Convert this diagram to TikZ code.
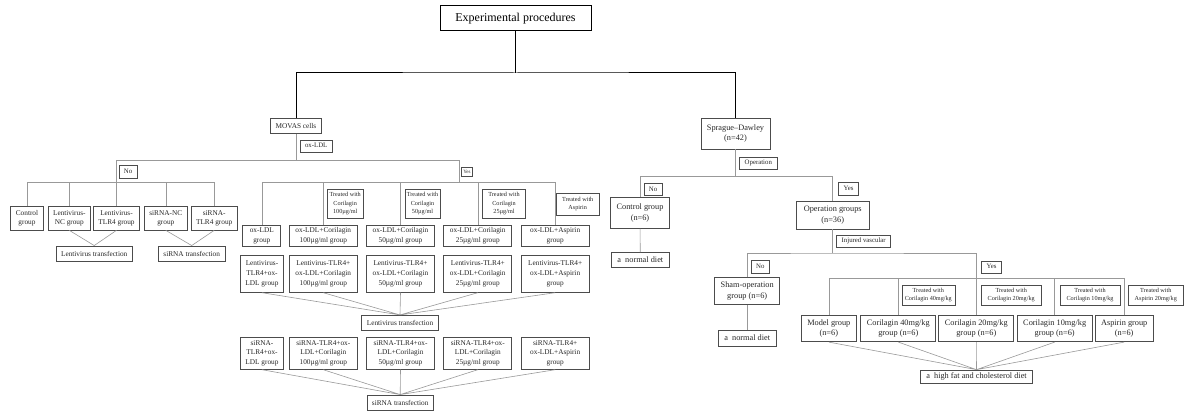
\documentclass[tikz,border=0pt]{standalone}
\usepackage{fontspec}
\setmainfont{Liberation Serif}
\definecolor{cbd}{gray}{.3}
\definecolor{cln}{gray}{.6}
\definecolor{ctx}{gray}{.15}
\tikzset{
    box/.style={draw=cbd, line width=.8pt, text=ctx, align=center, inner xsep=5pt, inner ysep=2pt, font=\fontsize{7.3}{9.7}\selectfont},
    cell/.style={box, minimum width=68},
    rbox/.style={box, inner xsep=6pt, font=\fontsize{8.3}{10.5}\selectfont},
    tag/.style={draw=cbd, line width=.6pt, text=ctx, inner xsep=5pt, inner ysep=3pt, text height=4.8pt, text depth=1.4pt, font=\fontsize{6.8}{8}\selectfont},
    note/.style={draw=cbd, line width=.6pt, text=ctx, align=center, inner xsep=2pt, inner ysep=1pt, font=\fontsize{6.2}{8.3}\selectfont},
    link/.style={cln, line width=.6pt},
    trunk/.style={black, line width=1pt}
}
\begin{document}
\begin{tikzpicture}[x=1pt, y=-1pt]
    \useasboundingbox(0, 0) rectangle(1197, 414);
    \node[draw, line width=1pt, minimum width=151, minimum height=25, font=\fontsize{12}{14}\selectfont](title) at(515.5, 18.3){Experimental procedures};
    \node[box, minimum height=15](movas) at(296, 126){MOVAS cells};
    \node[rbox, minimum height=30.7](rats) at(735.5, 133.7){Sprague--Dawley\\(n=42)};
    \coordinate(hub) at(515.5, 73);
    \draw[trunk](title)--(hub);
    \draw[trunk](movas)|-(hub)-|(rats);
    \node[tag](tox) at(316.2, 146.2){ox-LDL};
    \coordinate(mj) at(296, 160.5);
    \coordinate(nj) at(116.5, 182.5);
    \coordinate(yj) at(459.3, 182.2);
    \draw[link](movas)--(mj);
    \draw[link](nj)|-(mj)-|(yj);
    \node[tag](tno) at(128, 171.8){No};
    \node[tag, inner xsep=2pt, inner ysep=2.2pt, text height=3.8pt, text depth=1pt, font=\fontsize{5}{6}\selectfont](tyes) at(467, 172){Yes};
    \node[box, minimum height=23.3](ctrl) at(27, 218.3){Control\\group};
    \node[box, minimum height=23.3](lvnc) at(69.3, 218.3){Lentivirus-\\NC group};
    \node[box, minimum height=23.3](lvtlr) at(116.5, 218.3){Lentivirus-\\TLR4 group};
    \node[box, minimum height=23.3](sinc) at(165.8, 218.3){siRNA-NC\\group};
    \node[box, minimum height=23.3](sitlr) at(214.2, 218.3){siRNA-\\TLR4 group};
    \draw[link](ctrl|-nj)--(sitlr|-nj) (ctrl)--(ctrl|-nj) (lvnc)--(lvnc|-nj) (lvtlr)--(nj) (sinc)--(sinc|-nj) (sitlr)--(sitlr|-nj);
    \node[box, minimum height=15.7](ltf) at(94.2, 253.8){Lentivirus transfection};
    \node[box, minimum height=15.7](stf) at(191.7, 253.8){siRNA transfection};
    \draw[link](lvnc.south)--(ltf.north)--(lvtlr.south) (sinc.south)--(stf.north)--(sitlr.south);
    \node[note, minimum height=29.3](n100) at(345.2, 203.7){Treated with\\Corilagin\\100µg/ml};
    \node[note, minimum height=29.3](n50) at(422.5, 203.7){Treated with\\Corilagin\\50µg/ml};
    \node[note, minimum height=29.3, minimum width=43](n25) at(504, 203.7){Treated with\\Corilagin\\25µg/ml};
    \node[note, minimum height=22, minimum width=43](nasp) at(577.7, 204){Treated with\\Aspirin};
    \node[cell, minimum width=38, minimum height=21.7](oa) at(261.8, 235.8){ox-LDL\\group};
    \node[cell, minimum height=21.7](ob) at(323.3, 235.8){ox-LDL+Corilagin\\100µg/ml group};
    \node[cell, minimum height=21.7](oc) at(400.5, 235.8){ox-LDL+Corilagin\\50µg/ml group};
    \node[cell, minimum height=21.7](od) at(477.8, 235.8){ox-LDL+Corilagin\\25µg/ml group};
    \node[cell, minimum height=21.7](oe) at(555.2, 235.8){ox-LDL+Aspirin\\group};
    \draw[link](oa|-yj)--(oe|-yj) (oa)--(oa|-yj) (ob)--(ob|-yj) (oc)--(oc|-yj) (od)--(od|-yj) (oe)--(oe|-yj);
    \node[cell, minimum width=40, minimum height=36.6](la) at(262, 274){Lentivirus-\\TLR4+ox-\\LDL group};
    \node[cell, minimum height=36.6](lb) at(323.3, 274){Lentivirus-TLR4+\\ox-LDL+Corilagin\\100µg/ml group};
    \node[cell, minimum height=36.6](lc) at(400.5, 274){Lentivirus-TLR4+\\ox-LDL+Corilagin\\50µg/ml group};
    \node[cell, minimum height=36.6](ld) at(477.8, 274){Lentivirus-TLR4+\\ox-LDL+Corilagin\\25µg/ml group};
    \node[cell, minimum height=36.6](le) at(555.2, 274){Lentivirus-TLR4+\\ox-LDL+Aspirin\\group};
    \node[box, minimum height=14.7](ltf2) at(400, 322.7){Lentivirus transfection};
    \draw[link](la.south)--(ltf2.north) (lb.south)--(ltf2.north) (lc.south)--(ltf2.north) (ld.south)--(ltf2.north) (le.south)--(ltf2.north);
    \node[cell, minimum width=40, minimum height=32](sa) at(262, 353.3){siRNA-\\TLR4+ox-\\LDL group};
    \node[cell, minimum height=32](sb) at(323.3, 353.3){siRNA-TLR4+ox-\\LDL+Corilagin\\100µg/ml group};
    \node[cell, minimum height=32](sc) at(400.5, 353.3){siRNA-TLR4+ox-\\LDL+Corilagin\\50µg/ml group};
    \node[cell, minimum height=32](sd) at(477.8, 353.3){siRNA-TLR4+ox-\\LDL+Corilagin\\25µg/ml group};
    \node[cell, minimum height=32](se) at(555.2, 353.3){siRNA-TLR4+\\ox-LDL+Aspirin\\group};
    \node[box, minimum height=15](stf2) at(400.2, 402.5){siRNA transfection};
    \draw[link](sa.south)--(stf2.north) (sb.south)--(stf2.north) (sc.south)--(stf2.north) (sd.south)--(stf2.north) (se.south)--(stf2.north);
    \node[tag](top) at(758.3, 163.3){Operation};
    \coordinate(sj) at(735.5, 176.7);
    \draw[link](rats)--(sj);
    \node[tag](rno) at(653, 189.7){No};
    \node[tag](ryes) at(848.5, 188.8){Yes};
    \node[rbox, minimum height=31](cg) at(640, 212.8){Control group\\(n=6)};
    \node[rbox, minimum height=27.3, minimum width=73](og) at(832.7, 215.3){Operation groups\\(n=36)};
    \draw[link](cg)|-(sj)-|(og);
    \node[rbox, minimum height=14.7](nd1) at(640.3, 260){a\ \ normal diet};
    \draw[link](cg)--(nd1);
    \node[tag](tinj) at(863.7, 241){Injured vascular};
    \coordinate(ij) at(832.7, 253);
    \coordinate(yj2) at(976.5, 278.3);
    \draw[link](og)--(ij);
    \node[tag](sno) at(760.3, 266.7){No};
    \node[tag](syes) at(991.5, 267.2){Yes};
    \node[rbox, minimum height=27](sham) at(747.2, 291.2){Sham-operation\\group (n=6)};
    \draw[link](sham)|-(ij)-|(yj2);
    \node[rbox, minimum height=16](nd2) at(747.2, 338){a\ \ normal diet};
    \draw[link](sham)--(nd2);
    \node[note, minimum height=20.7, minimum width=53](m40) at(928.3, 295.3){Treated with\\Corilagin 40mg/kg};
    \node[note, minimum height=20.7, minimum width=60](m20) at(1011.2, 295.3){Treated with\\Corilagin 20mg/kg};
    \node[note, minimum height=20.7, minimum width=60](m10) at(1090, 295.3){Treated with\\Corilagin 10mg/kg};
    \node[note, minimum height=20.7, minimum width=55](masp) at(1155.8, 295.3){Treated with\\Aspirin 20mg/kg};
    \node[rbox, minimum height=26](model) at(828.8, 328.7){Model group\\(n=6)};
    \node[rbox, minimum height=26](c40) at(898.3, 328.7){Corilagin 40mg/kg\\group (n=6)};
    \node[rbox, minimum height=26](c20) at(976.3, 328.7){Corilagin 20mg/kg\\group (n=6)};
    \node[rbox, minimum height=26](c10) at(1054.7, 328.7){Corilagin 10mg/kg\\group (n=6)};
    \node[rbox, minimum height=26](asp) at(1124.2, 328.7){Aspirin group\\(n=6)};
    \draw[link](model|-yj2)--(asp|-yj2) (model)--(model|-yj2) (c40)--(c40|-yj2) (c20)--(c20|-yj2) (c10)--(c10|-yj2) (asp)--(asp|-yj2);
    \node[rbox, minimum height=13.3](hfd) at(976.5, 376.7){a\ \ high fat and cholesterol diet};
    \draw[link](model.south)--(hfd.north) (c40.south)--(hfd.north) (c20.south)--(hfd.north) (c10.south)--(hfd.north) (asp.south)--(hfd.north);
\end{tikzpicture}
\end{document}
